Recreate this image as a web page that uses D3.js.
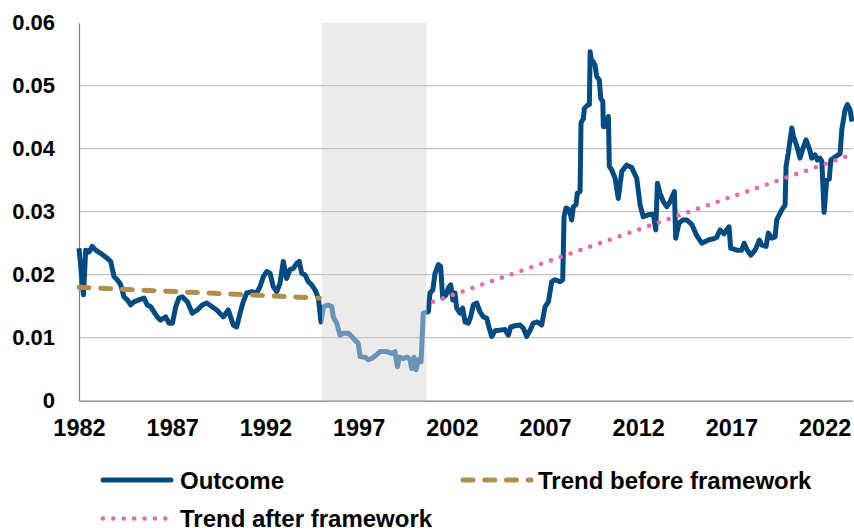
<!DOCTYPE html>
<html><head><meta charset="utf-8">
<script src="https://cdn.jsdelivr.net/npm/d3@7"></script>
<style>
body{margin:0;background:#fff;}
svg text{font-family:"Liberation Sans",Arial,sans-serif;font-weight:bold;fill:#000;}
</style></head><body>
<svg id="chart" width="854" height="532"></svg>
<script>
const outcomeYears = [
1982.00,1982.24,1982.36,1982.54,1982.71,1982.90,1983.16,1983.52,1983.70,1983.88,
1984.05,1984.24,1984.41,1984.59,1984.77,1984.95,1985.22,1985.49,1985.66,1985.85,
1986.02,1986.20,1986.38,1986.65,1986.83,1987.01,1987.19,1987.36,1987.54,1987.81,
1988.08,1988.35,1988.61,1988.85,1989.39,1989.74,1990.01,1990.28,1990.46,1990.64,
1990.81,1991.00,1991.27,1991.53,1991.71,1991.89,1992.07,1992.25,1992.42,1992.61,
1992.78,1992.96,1993.14,1993.32,1993.50,1993.68,1993.82,1993.95,1994.12,1994.30,
1994.48,1994.66,1994.84,1994.98,1995.11,1995.37,1995.56,1995.64,1995.83,1996.00,
1996.18,1996.45,1996.63,1996.81,1996.98,1997.08,1997.34,1997.52,1997.70,1997.97,
1998.15,1998.51,1998.78,1998.95,1999.08,1999.18,1999.40,1999.61,1999.76,1999.85,
1999.97,2000.08,2000.20,2000.35,2000.47,2000.74,2000.83,2000.98,2001.10,2001.28,
2001.40,2001.51,2001.69,2001.81,2001.94,2002.05,2002.17,2002.26,2002.44,2002.58,
2002.71,2002.89,2003.01,2003.15,2003.34,2003.51,2003.69,2003.87,2004.01,2004.14,
2004.32,2004.59,2004.85,2005.03,2005.16,2005.39,2005.66,2005.84,2006.02,2006.20,
2006.37,2006.59,2006.82,2007.00,2007.18,2007.36,2007.54,2007.80,2007.95,2008.02,
2008.13,2008.30,2008.43,2008.52,2008.66,2008.73,2008.88,2008.93,2009.06,2009.11,
2009.24,2009.38,2009.42,2009.51,2009.59,2009.68,2009.77,2009.91,2009.99,2010.10,
2010.13,2010.22,2010.31,2010.40,2010.45,2010.58,2010.76,2010.93,2011.12,2011.38,
2011.65,2011.92,2012.10,2012.27,2012.54,2012.81,2012.94,2013.03,2013.17,2013.35,
2013.53,2013.71,2013.94,2014.01,2014.19,2014.40,2014.60,2014.87,2015.14,2015.41,
2015.76,2016.03,2016.21,2016.39,2016.60,2016.87,2016.96,2017.28,2017.55,2017.68,
2017.85,2018.04,2018.27,2018.50,2018.63,2018.86,2018.98,2019.16,2019.34,2019.43,
2019.70,2019.88,2019.93,2020.05,2020.24,2020.32,2020.50,2020.68,2020.83,2021.00,
2021.18,2021.31,2021.49,2021.61,2021.75,2021.85,2021.97,2022.11,2022.25,2022.33,
2022.56,2022.83,2022.92,2023.10,2023.22,2023.36,2023.47];
const outcomeValues = [
0.0242,0.0168,0.0239,0.0236,0.0245,0.0239,0.0234,0.0226,0.0221,0.0197,
0.0192,0.0184,0.0165,0.0160,0.0152,0.0157,0.0160,0.0163,0.0152,0.0149,
0.0141,0.0133,0.0128,0.0133,0.0123,0.0123,0.0149,0.0163,0.0165,0.0157,
0.0139,0.0144,0.0152,0.0155,0.0144,0.0133,0.0144,0.0120,0.0117,0.0139,
0.0157,0.0171,0.0173,0.0171,0.0181,0.0197,0.0205,0.0202,0.0181,0.0173,
0.0186,0.0221,0.0194,0.0208,0.0210,0.0218,0.0221,0.0202,0.0200,0.0189,
0.0184,0.0176,0.0163,0.0125,0.0149,0.0152,0.0149,0.0133,0.0123,0.0104,
0.0107,0.0107,0.0102,0.0096,0.0091,0.0070,0.0069,0.0065,0.0067,0.0073,
0.0078,0.0078,0.0075,0.0078,0.0054,0.0069,0.0067,0.0069,0.0065,0.0051,
0.0069,0.0049,0.0065,0.0062,0.0139,0.0141,0.0171,0.0176,0.0202,0.0216,
0.0213,0.0163,0.0168,0.0179,0.0184,0.0160,0.0171,0.0147,0.0139,0.0147,
0.0125,0.0123,0.0133,0.0152,0.0155,0.0141,0.0133,0.0131,0.0115,0.0102,
0.0111,0.0112,0.0113,0.0104,0.0117,0.0119,0.0120,0.0115,0.0102,0.0112,
0.0123,0.0125,0.0120,0.0149,0.0157,0.0189,0.0192,0.0189,0.0192,0.0292,
0.0306,0.0303,0.0287,0.0308,0.0311,0.0329,0.0332,0.0441,0.0448,0.0464,
0.0468,0.0470,0.0554,0.0536,0.0538,0.0533,0.0515,0.0509,0.0480,0.0475,
0.0435,0.0446,0.0435,0.0451,0.0372,0.0366,0.0353,0.0321,0.0364,0.0374,
0.0370,0.0353,0.0311,0.0292,0.0295,0.0296,0.0271,0.0345,0.0329,0.0316,
0.0308,0.0316,0.0332,0.0258,0.0282,0.0287,0.0287,0.0280,0.0262,0.0250,
0.0255,0.0257,0.0259,0.0271,0.0265,0.0276,0.0242,0.0239,0.0239,0.0250,
0.0239,0.0231,0.0239,0.0255,0.0247,0.0245,0.0266,0.0258,0.0260,0.0287,
0.0303,0.0311,0.0372,0.0393,0.0433,0.0420,0.0405,0.0385,0.0400,0.0414,
0.0400,0.0385,0.0390,0.0382,0.0385,0.0380,0.0299,0.0350,0.0352,0.0382,
0.0387,0.0392,0.0430,0.0462,0.0470,0.0462,0.0443];

const trendBeforeYears = [1982.0, 1994.9];
const trendBeforeValues = [0.0180, 0.0163];
const trendAfterYears = [2001.0, 2023.4];
const trendAfterValues = [0.0157, 0.0390];
const shadedPeriod = [1995.04, 2000.64];

const xTicks = [1982, 1987, 1992, 1997, 2002, 2007, 2012, 2017, 2022];
const yTicks = [0, 0.01, 0.02, 0.03, 0.04, 0.05, 0.06];
const yTickLabels = ["0", "0.01", "0.02", "0.03", "0.04", "0.05", "0.06"];
const seriesNames = ["Outcome", "Trend before framework", "Trend after framework"];

const C_DARK = "#024a82", C_LIGHT = "#6a93b8", C_GOLD = "#b08f4c", C_PINK = "#e96aac";

const svg = d3.select("#chart");
const L = 79, R = 852.6, T = 22.7, B = 400.7;
const x = d3.scaleLinear().domain([1982, 2023.5]).range([L, R]);
const y = d3.scaleLinear().domain([0, 0.06]).range([B, T]);

const defs = svg.append("defs");
defs.append("clipPath").attr("id", "clipLight").append("rect")
  .attr("x", x(shadedPeriod[0])).attr("y", 0)
  .attr("width", x(shadedPeriod[1]) - x(shadedPeriod[0])).attr("height", 532);
const cd = defs.append("clipPath").attr("id", "clipDark");
cd.append("rect").attr("x", 0).attr("y", 0).attr("width", x(shadedPeriod[0])).attr("height", 532);
cd.append("rect").attr("x", x(shadedPeriod[1])).attr("y", 0).attr("width", 854 - x(shadedPeriod[1])).attr("height", 532);

// shaded band
svg.append("rect")
  .attr("x", x(shadedPeriod[0])).attr("y", T)
  .attr("width", x(shadedPeriod[1]) - x(shadedPeriod[0])).attr("height", B - T)
  .attr("fill", "#ebebeb");

// gridlines
svg.append("g").selectAll("line").data(yTicks.filter(d => d > 0 && d < 0.06)).join("line")
  .attr("x1", L).attr("x2", R).attr("y1", d => y(d)).attr("y2", d => y(d))
  .attr("stroke", "#c4c4c4").attr("stroke-width", 1.3);

// axes
const yAxis = svg.append("g").attr("transform", `translate(${L},0)`)
  .call(d3.axisLeft(y).tickValues(yTicks).tickFormat((d, i) => yTickLabels[i]).tickSize(0).tickSizeOuter(0).tickPadding(24));
yAxis.select(".domain").attr("stroke", "#7f7f7f").attr("stroke-width", 1.2);
yAxis.selectAll("text").attr("font-size", 22).attr("font-family", "Liberation Sans, Arial, sans-serif").attr("font-weight", "bold");

const xAxis = svg.append("g").attr("transform", `translate(0,${B})`)
  .call(d3.axisBottom(x).tickValues(xTicks).tickFormat(d => String(d)).tickSize(0).tickSizeOuter(0).tickPadding(19));
xAxis.select(".domain").attr("stroke", "#7f7f7f").attr("stroke-width", 1.2);
xAxis.selectAll("text").attr("font-size", 23.5).attr("font-family", "Liberation Sans, Arial, sans-serif").attr("font-weight", "bold");

const outcome = outcomeYears.map((yr, i) => ({ year: yr, value: outcomeValues[i] }));
const line = d3.line().x(d => x(d.year)).y(d => y(d.value));

svg.append("path").datum(outcome).attr("d", line)
  .attr("fill", "none").attr("stroke", C_DARK).attr("stroke-width", 5)
  .attr("stroke-linejoin", "round").attr("clip-path", "url(#clipDark)");
svg.append("path").datum(outcome).attr("d", line)
  .attr("fill", "none").attr("stroke", C_LIGHT).attr("stroke-width", 5)
  .attr("stroke-linejoin", "round").attr("clip-path", "url(#clipLight)");

const tb = trendBeforeYears.map((yr, i) => ({ year: yr, value: trendBeforeValues[i] }));
svg.append("path").datum(tb).attr("d", line)
  .attr("fill", "none").attr("stroke", C_GOLD).attr("stroke-width", 5)
  .attr("stroke-linecap", "round").attr("stroke-dasharray", "10 11.7");

const ta = trendAfterYears.map((yr, i) => ({ year: yr, value: trendAfterValues[i] }));
svg.append("path").datum(ta).attr("d", line)
  .attr("fill", "none").attr("stroke", C_PINK).attr("stroke-width", 4.6)
  .attr("stroke-linecap", "round").attr("stroke-dasharray", "0 10.4");

// legend
const legend = svg.append("g");
const items = [
  { name: seriesNames[0], x: 101, y: 480, tx: 180, color: C_DARK, dash: null, w: 5 },
  { name: seriesNames[1], x: 461, y: 480, tx: 538, color: C_GOLD, dash: "10 11.7", w: 5 },
  { name: seriesNames[2], x: 101, y: 518.5, tx: 180, color: C_PINK, dash: "0 10.4", w: 4.6 }
];
items.forEach(it => {
  legend.append("line").attr("x1", it.x + 2).attr("x2", it.x + 70).attr("y1", it.y).attr("y2", it.y)
    .attr("stroke", it.color).attr("stroke-width", it.w).attr("stroke-linecap", "round")
    .attr("stroke-dasharray", it.dash);
  legend.append("text").attr("x", it.tx).attr("y", it.y + 8.5).attr("font-size", 24).text(it.name);
});
</script>
</body></html>
